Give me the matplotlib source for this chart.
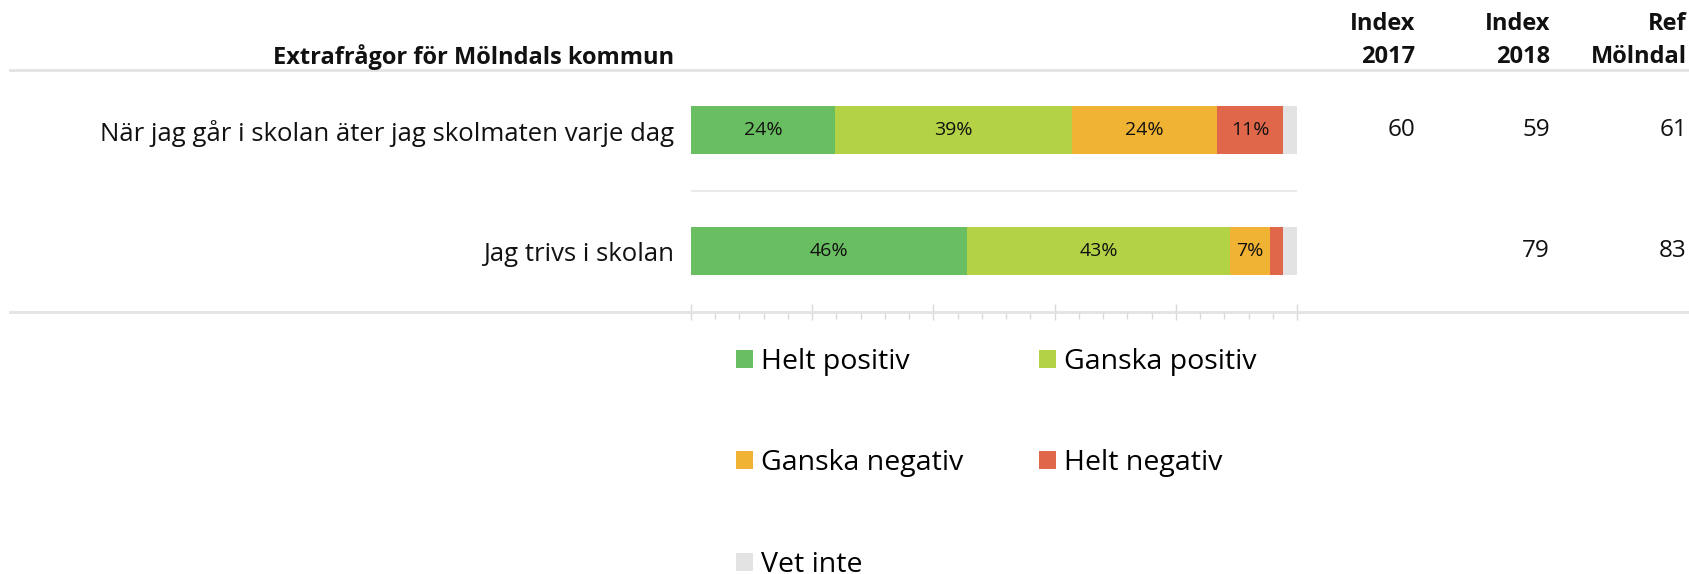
import matplotlib
matplotlib.use("Agg")
import matplotlib.pyplot as plt
from matplotlib.lines import Line2D
from matplotlib.ticker import MultipleLocator
import numpy as np

plt.rcParams['font.family'] = ['Open Sans', 'DejaVu Sans']

# ---- data ----
questions = ["När jag går i skolan äter jag skolmaten varje dag", "Jag trivs i skolan"]
categories = ["Helt positiv", "Ganska positiv", "Ganska negativ", "Helt negativ", "Vet inte"]
helt_positiv = [23.8, 45.5]
ganska_positiv = [39.1, 43.5]
ganska_negativ = [23.9, 6.5]
helt_negativ = [10.9, 2.2]
vet_inte = [2.4, 2.4]
bar_labels = [["24%", "39%", "24%", "11%", ""], ["46%", "43%", "7%", "", ""]]
index_2017 = ["60", ""]
index_2018 = ["59", "79"]
ref_molndal = ["61", "83"]
col_headers = ["Index\n2017", "Index\n2018", "Ref\nMölndal"]
section_title = "Extrafrågor för Mölndals kommun"

colors = ["#69BE61", "#B3D245", "#F1B333", "#E1674B", "#E3E3E3"]

W, H = 1690, 574
fig = plt.figure(figsize=(W / 100, H / 100), dpi=100)

def fx(px):
    return px / W

def fy(py):
    return 1 - py / H

# axes spans x 691..1297, y 71..312 px
ax = fig.add_axes([fx(691), fy(312), fx(1297) - fx(691), fy(71) - fy(312)])
ax.set_xlim(0, 100)
ax.set_ylim(1.504, -0.488)

series = [helt_positiv, ganska_positiv, ganska_negativ, helt_negativ, vet_inte]
ypos = np.arange(len(questions))
left = np.zeros(len(questions))
containers = []
for i, (vals, c, name) in enumerate(zip(series, colors, categories)):
    bc = ax.barh(ypos, vals, left=left, height=0.39, color=c, label=name, edgecolor='none')
    containers.append(bc)
    labels = [bar_labels[q][i] for q in range(len(questions))]
    ax.bar_label(bc, labels=labels, label_type='center', fontsize=14, color='#111111')
    left = left + np.array(vals)

# separator between rows
ax.axhline(0.5, color='#e6e6e6', lw=1.2)

# axes styling
for s in ['top', 'right', 'left', 'bottom']:
    ax.spines[s].set_visible(False)
ax.set_yticks(ypos)
ax.set_yticklabels(questions, fontsize=18.5, color='#111111')
ax.tick_params(axis='y', length=0, pad=12)
ax.xaxis.set_major_locator(MultipleLocator(20))
ax.xaxis.set_minor_locator(MultipleLocator(4))
ax.tick_params(axis='x', which='major', direction='inout', length=11, width=1.0,
               color='#d9d9d9', labelbottom=False)
ax.tick_params(axis='x', which='minor', direction='out', length=5, width=1.0,
               color='#d9d9d9')

# full-width horizontal rules
fig.add_artist(Line2D([fx(10), 1], [fy(70), fy(70)], color='#e3e3e3', lw=2))
fig.add_artist(Line2D([fx(10), 1], [fy(312), fy(312)], color='#e3e3e3', lw=2))

# section title
fig.text(fx(674), fy(57), section_title, ha='right', va='center',
         fontsize=17, fontweight='bold', color='#111111')

# column headers and values
col_x = [1415, 1550, 1687]
cols = [index_2017, index_2018, ref_molndal]
for cx, hdr, vals in zip(col_x, col_headers, cols):
    top, bot = hdr.split("\n")
    fig.text(fx(cx), fy(24), top, ha='right', va='center', fontsize=17,
             fontweight='bold', color='#111111')
    fig.text(fx(cx), fy(57), bot, ha='right', va='center', fontsize=17,
             fontweight='bold', color='#111111')
    for q, v in enumerate(vals):
        disp_y = ax.transData.transform((0, ypos[q]))[1]
        fy_val = fig.transFigure.inverted().transform((0, disp_y))[1]
        fig.text(fx(cx), fy_val, v, ha='right', va='center', fontsize=17.5, color='#111111')

# legend (row-major order)
order = [0, 2, 4, 1, 3]
handles = [containers[i] for i in order]
labs = [categories[i] for i in order]
fig.legend(handles, labs, ncol=2, loc='upper left',
           bbox_to_anchor=(fx(736), fy(348)), frameon=False, fontsize=20.5,
           handlelength=0.6, handleheight=0.6, handletextpad=0.28,
           columnspacing=2.65, labelspacing=2.58, borderpad=0, borderaxespad=0)

fig.savefig("out.png", dpi=100)
